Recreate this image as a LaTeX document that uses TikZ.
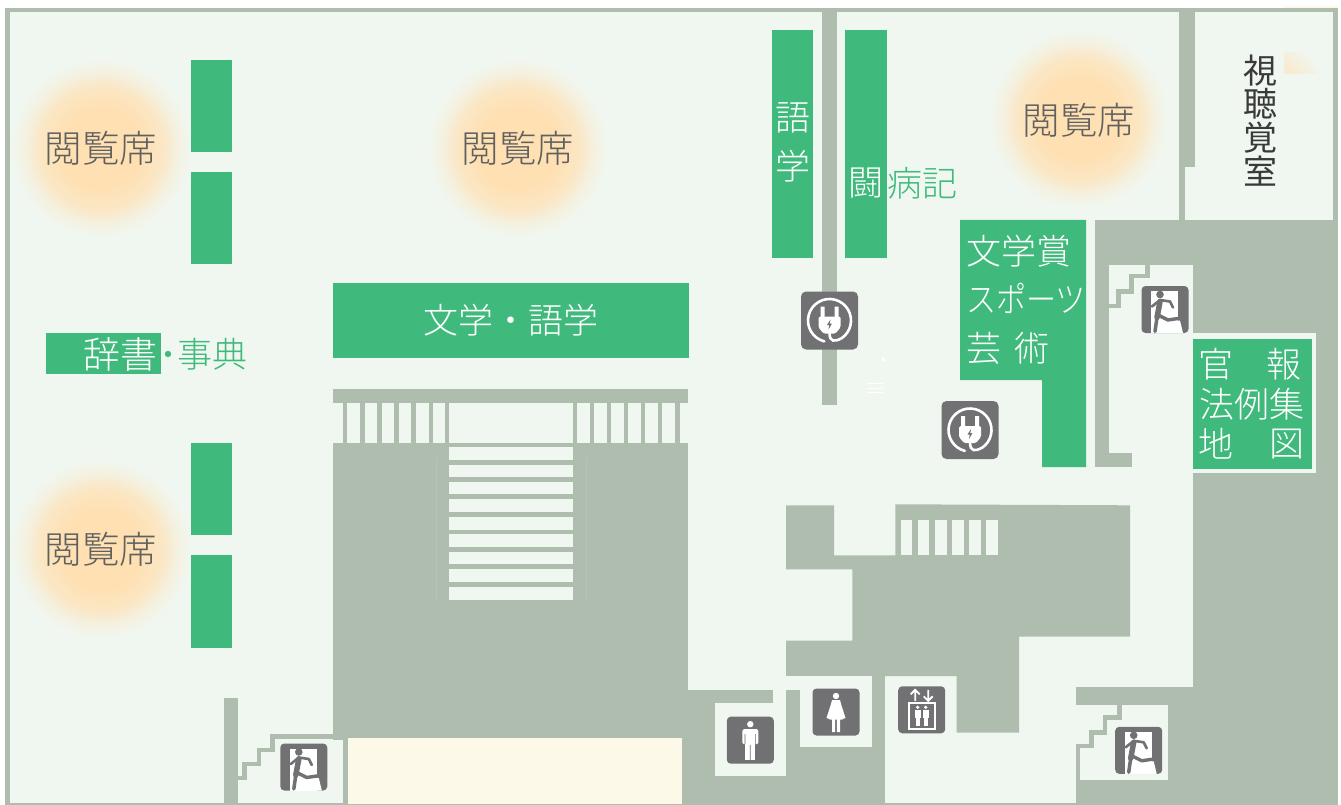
\documentclass[tikz,border=0pt]{standalone}
\usepackage{graphicx}
\usepackage{fontspec}
\setmainfont{Noto Sans CJK JP}[UprightFont={* Light}]
\newfontfamily\regf{Noto Sans CJK JP}
\definecolor{floorc}{HTML}{F0F7F1}
\definecolor{wallc}{HTML}{AFBDAF}
\definecolor{shelfc}{HTML}{40BA7C}
\definecolor{iconc}{HTML}{717073}
\definecolor{yellowc}{HTML}{FDF9E8}
\definecolor{peachc}{HTML}{FFE0B2}
\definecolor{seatc}{HTML}{606060}
\definecolor{darkc}{HTML}{3A3A3A}
\pgfdeclareradialshading{glow}{\pgfpoint{0bp}{0bp}}{color(0bp)=(peachc);color(11bp)=(peachc);color(17bp)=(peachc!70!floorc);color(21bp)=(peachc!25!floorc);color(25bp)=(floorc);color(50bp)=(floorc)}
\tikzset{
  wall/.style={fill=wallc,draw=none},
  floorfill/.style={fill=floorc,draw=none},
  shelf/.style={fill=shelfc,draw=none},
  wline/.style={draw=wallc,line width=4.5pt,line join=miter},
  seat/.style={text=seatc,font=\fontsize{37.5}{37.5}\selectfont,inner sep=0pt},
  wtext/.style={text=white,font=\fontsize{35}{35}\selectfont,inner sep=0pt},
  gtext/.style={text=shelfc,font=\fontsize{35}{35}\selectfont,inner sep=0pt},
  dtext/.style={text=darkc,font=\regf\fontsize{34}{34}\selectfont,inner sep=0pt},
  iconbox/.pic={\fill[iconc,rounded corners=4pt] (-23.5,-23.5) rectangle (23.5,23.5);},
  plugicon/.pic={
    \fill[iconc,rounded corners=5pt] (-28.5,-29) rectangle (28.5,29);
    \draw[white,line width=2.6pt,line cap=round] (104:21.5) arc[start angle=104,end angle=415,radius=21.5] .. controls (5,21.5) and (0,22) .. (0,12);
    \fill[white,rounded corners=1.5pt] (-11,-4) -- (11,-4) -- (11,7) -- (6,13) -- (-6,13) -- (-11,7) -- cycle;
    \fill[white] (-9,-14) rectangle (-5,-3) (5,-14) rectangle (9,-3);
    \fill[iconc] (1,-1) -- (-2.5,4.5) -- (-0.3,4.5) -- (-1,9) -- (2.5,3) -- (0.3,3) -- cycle;
  },
  menicon/.pic={
    \pic {iconbox};
    \fill[white] (0,-16) circle (3.2);
    \fill[white,rounded corners=1.5pt] (-8,-11) rectangle (8,4);
    \fill[white] (-5,-11) rectangle (5,20);
    \fill[iconc] (-0.4,5) rectangle (0.4,20) (-5.6,-6) rectangle (-5,4) (5,-6) rectangle (5.6,4);
  },
  womenicon/.pic={
    \pic {iconbox};
    \fill[white] (0,-16) circle (3.2);
    \fill[white] (-4,-12) -- (4,-12) -- (5,-8) -- (9.5,6) -- (6.5,7) -- (6.5,7.5) -- (-6.5,7.5) -- (-6.5,7) -- (-9.5,6) -- (-5,-8) -- cycle;
    \fill[white] (-4,7) rectangle (-0.8,20) (0.8,7) rectangle (4,20);
  },
  eleicon/.pic={
    \pic {iconbox};
    \draw[white,line width=1.8pt] (-13,-6.5) rectangle (13,19);
    \draw[white,line width=1.8pt] (-6.5,-9) -- (-6.5,-20) (-11,-15.5) -- (-6.5,-20) -- (-2,-15.5);
    \draw[white,line width=1.8pt] (6.5,-20) -- (6.5,-9) (2,-13.5) -- (6.5,-9) -- (11,-13.5);
    \foreach \xx in {-4,4}{
      \fill[white] (\xx,-2.5) circle (1.8);
      \fill[white] (\xx-3,0) rectangle (\xx+3,8);
      \fill[white] (\xx-2,7) rectangle (\xx+2,16);
    }
  },
  exiticon/.pic={
    \pic {iconbox};
    \fill[white] (-14,-18.5) rectangle (13,23.5);
    \fill[iconc] (-5,-15) circle (3.8);
    \draw[iconc,line width=5.5pt,line cap=round,line join=round] (-5,-8) -- (-8,8);
    \draw[iconc,line width=2.6pt,line cap=round,line join=round] (-13,-3) -- (-5,-9.5) -- (5,-8) -- (8,-2);
    \draw[iconc,line width=3.5pt,line cap=round,line join=round] (-8,8) -- (-10,22);
    \draw[iconc,line width=3.4pt,line cap=round,line join=round] (-6,6) -- (3,10.5) -- (13,9);
    \fill[white] (13,11) -- (15,11) -- (18,23.5) -- (13,23.5) -- cycle;
  },
}
\begin{document}
\begin{tikzpicture}[x=1pt,y=-1pt]
\useasboundingbox (0,0) rectangle (1341,805);
\fill[white] (0,0) rectangle (1341,805);
% outer wall and floor
\fill[wallc] (5,8) rectangle (1338,805);
\fill[floorc] (10,12.5) rectangle (1333,803);
% reading-seat glows
\foreach \cx/\cy in {101/148,518/148,101/549,1079/119}{
  \shade[shading=glow] (\cx,\cy) circle (91);
}
\fill[wall] (5,8) rectangle (10,805);
% faint tint, top right
\shade[shading=axis,top color=floorc,bottom color=peachc!55!floorc,shading angle=-45] (1284,53) rectangle (1317,74);
\fill[yellowc] (1284,6.5) rectangle (1338,8);
% upper walls
\fill[wall] (822,12) rectangle (837,405);
\fill[wall] (1179,12) rectangle (1195,167);
\fill[wall] (1179,167) rectangle (1185,220);
% right service core
\fill[wall] (1095,220) rectangle (1333,265);
\fill[wall] (1095,220) rectangle (1109,467);
\fill[wall] (1095,453) rectangle (1132,467);
\fill[wall] (1193,220) rectangle (1333,805);
\fill[wall] (1075.7,686.7) rectangle (1193,805);
\draw[wline] (1147.4,265) -- (1147.4,276) -- (1131.7,276) -- (1131.7,291.7) -- (1118.7,291.7) -- (1118.7,306) -- (1109,306);
% official gazette box
\fill[floorfill] (1193,333) rectangle (1316,473);
\fill[shelf] (1193,339) rectangle (1312,469);
% lower-right exit room
\fill[floorfill] (1075.7,705) rectangle (1168,780);
\fill[wall] (1075.7,746) rectangle (1080,805);
\draw[wline] (1119.3,705) -- (1119.3,717.7) -- (1105,717.7) -- (1105,732.3) -- (1091.7,732.3) -- (1091.7,746) -- (1076,746);
% central stair block
\fill[wall] (333,389) rectangle (688,403);
\fill[wall] (343,403) rectangle (680,443);
\fill[wall] (333,443) rectangle (688,740);
\foreach \a/\b in {347.3/360,364.7/377.3,381.7/394.3,398.7/411.3,416/428.7,433/445.3,449.3/573,576.7/590,594/606.7,611/624,628.3/641,645.3/658.3,662.3/675}{
  \fill[floorfill] (\a,403) rectangle (\b,443);
}
\foreach \a/\b in {447.3/460,464.7/477.3,481.7/494.3,499/511.7,517/529.7,534.3/547,551.7/564.3,569.3/582,586.7/599.7}{
  \fill[floorfill] (449.3,\a) rectangle (573,\b);
}
\draw[wallc!92!white,line width=0.6pt] (436,457) -- (436,601) (586,457) -- (586,601);
\fill[yellowc] (348,738) rectangle (682,804);
\fill[wall] (343.3,736) rectangle (348,805);
\fill[wall] (682,738) rectangle (688,805);
% lower-left exit room
\fill[wall] (223.7,697.7) rectangle (237.7,805);
\draw[wline] (237,778) -- (244.3,778) -- (244.3,764) -- (259,764) -- (259,750) -- (272.3,750) -- (272.3,736.5) -- (343.5,736.5);
% bottom middle block
\fill[wall] (688,690) rectangle (885,805);
\fill[wall] (786,505.3) -- (834,505.3) -- (834,555.3) -- (895.3,555.3) -- (895.3,504.3) -- (1130,505.3) -- (1130,636.7) -- (1019,636.7) -- (1019,732.7) -- (956.7,732.7) -- (956.7,676) -- (786,676) -- (786,640.7) -- (852.3,640.7) -- (852.3,569.3) -- (786,569.3) -- cycle;
\foreach \a in {901,918,935.3,952.3,969.3,986.3}{
  \fill[floorfill] (\a,520) rectangle (\a+11.4,555.3);
}
\fill[wall] (871.7,676) rectangle (885,700);
\fill[floorfill] (772.7,676) rectangle (786,703.3);
\fill[floorfill] (715,703.3) rectangle (786,775.7);
\fill[floorfill] (786,676) rectangle (871.7,690);
\fill[floorfill] (800,690) rectangle (871.7,747);
% shelves
\fill[shelf] (772,30) rectangle (813,258);
\fill[shelf] (845,30) rectangle (887,258);
\fill[shelf] (191,60) rectangle (232,152);
\fill[shelf] (191,172) rectangle (232,264);
\fill[shelf] (191,443) rectangle (232,535);
\fill[shelf] (191,555) rectangle (232,648);
\fill[shelf] (46,333) rectangle (161,374);
\fill[shelf] (333,283) rectangle (689,358);
\fill[shelf] (960,220) -- (1086,220) -- (1086,467) -- (1042,467) -- (1042,380) -- (960,380) -- cycle;
% small white marks
\draw[white,line width=1.2pt] (867,383.3) -- (883,383.3) (867,388.3) -- (883,388.3) (867,392.7) -- (883,392.7);
\fill[white] (882,357) -- (886,360) -- (882,362) -- cycle;
% icons
\pic at (829.5,320.5) {plugicon};
\pic at (970,430) {plugicon};
\pic at (1165,309.5) {exiticon};
\pic at (303.8,767) {exiticon};
\pic at (1138.7,750.3) {exiticon};
\pic at (750.3,740.2) {menicon};
\pic at (836,712) {womenicon};
\pic at (921.7,709.8) {eleicon};
% labels
\node[seat] (s1) at (101,148) {閲覧席};
\node[seat] (s2) at (518,148) {閲覧席};
\node[seat] (s3) at (101,549) {閲覧席};
\node[seat] (s4) at (1079,120) {閲覧席};
\node[wtext] (go) at (793,118) {語};
\node[wtext] (gaku) at (793,166) {学};
\node[wtext] (to) at (866,183) {闘};
\node[gtext,anchor=west] (byoki) at (887,183) {病記};
\node[dtext] (v1) at (1260,71) {視};
\node[dtext] (v2) at (1260,104) {聴};
\node[dtext] (v3) at (1260,138) {覚};
\node[dtext] (v4) at (1260,171) {室};
\node[wtext,anchor=west] (bg) at (966,251) {文学賞};
\node[wtext,anchor=west] (sp) at (966,298) {\scalebox{0.86}[1]{スポーツ}};
\node[wtext] (ge) at (983.5,348) {芸};
\node[wtext] (ju) at (1031.5,348) {術};
\node[wtext] (kan) at (1216,364) {官};
\node[wtext] (ho) at (1284,364) {報};
\node[wtext] (hr) at (1252,404) {法例集};
\node[wtext] (chi) at (1216,444) {地};
\node[wtext] (zu) at (1287,444) {図};
\node[wtext] (bun) at (511,320) {文学・語学};
\node[wtext,anchor=east,font=\fontsize{37}{37}\selectfont] (ji) at (157.5,354) {辞書};
\node[gtext,anchor=west] (ten) at (177.5,354) {事典};
\fill[shelfc] (168,354) circle (3.2);
\end{tikzpicture}
\end{document}
